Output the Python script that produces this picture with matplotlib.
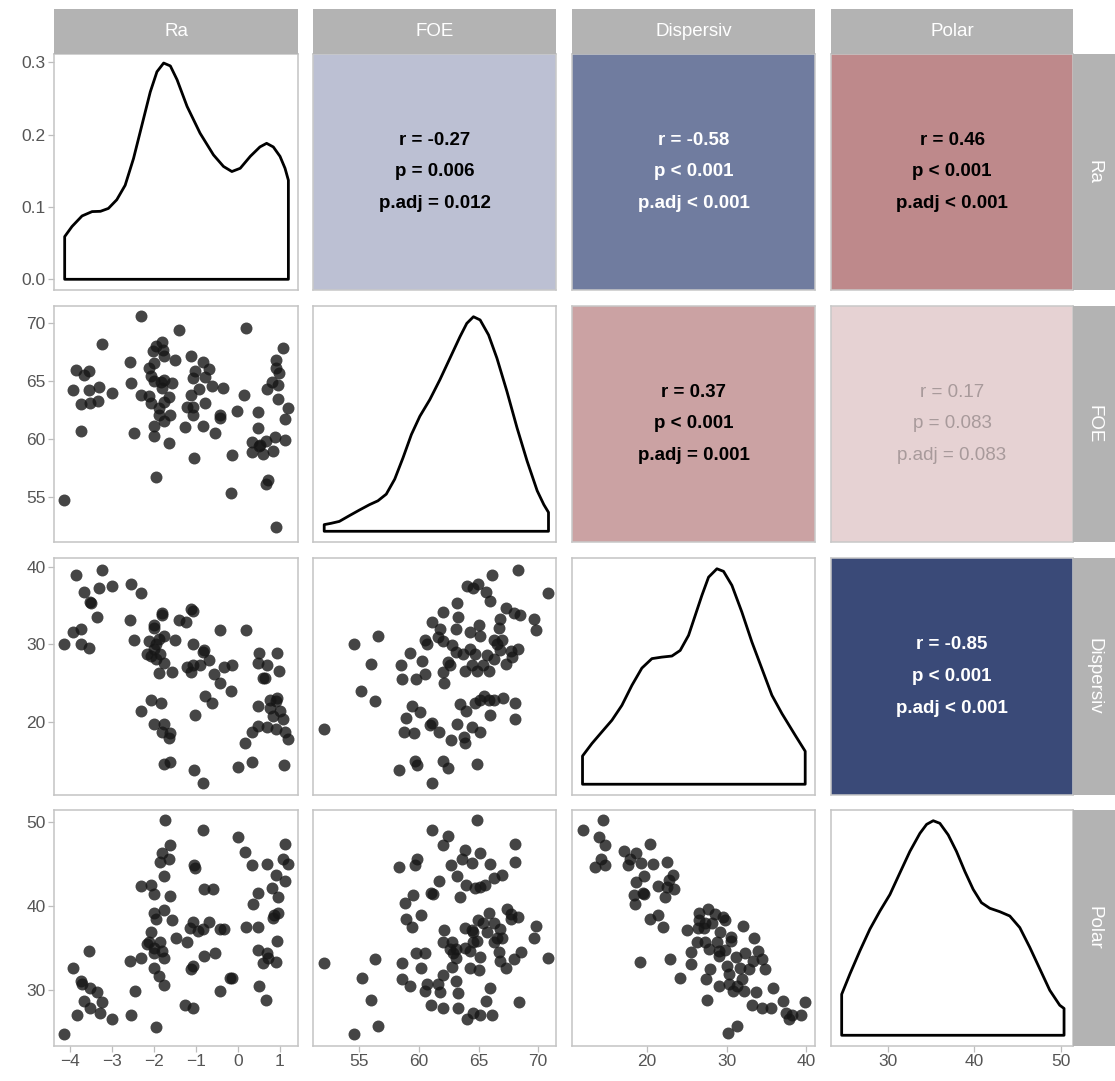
import matplotlib.pyplot as plt
import numpy as np

plt.rcParams['font.family'] = ['Liberation Sans', 'DejaVu Sans']

W, H = 1115, 1081

variables = ["Ra", "FOE", "Dispersiv", "Polar"]

# axis limits and ticks per variable
limits = {"Ra": (-4.39, 1.44), "FOE": (51.1, 71.5), "Dispersiv": (10.6, 41.1), "Polar": (23.35, 51.45)}
ticks = {"Ra": [-4, -3, -2, -1, 0, 1], "FOE": [55, 60, 65, 70],
         "Dispersiv": [20, 30, 40], "Polar": [30, 40, 50]}
ra_dens_ticks = [0.0, 0.1, 0.2, 0.3]

# diagonal densities (Ra in real units, others relative to their peak)
ra_dens_x = [-4.135, -3.96, -3.72, -3.48, -3.28, -3.09, -2.89, -2.69, -2.49, -2.29, -2.09, -1.93, -1.77, -1.61,
             -1.45, -1.21, -0.90, -0.58, -0.34, -0.14, 0.06, 0.30, 0.53, 0.69, 0.85, 1.01, 1.13, 1.21]
ra_dens_y = [0.059, 0.073, 0.0876, 0.0936, 0.094, 0.098, 0.110, 0.130, 0.167, 0.213, 0.259, 0.287, 0.299, 0.295,
             0.276, 0.239, 0.202, 0.172, 0.156, 0.149, 0.1535, 0.170, 0.183, 0.188, 0.183, 0.170, 0.1535, 0.137]
foe_dens_x = [52.04, 52.61, 53.31, 54.16, 55.0, 55.84, 56.55, 57.25, 57.96, 58.66, 59.36, 60.07, 60.91, 61.75,
              62.60, 63.44, 64.01, 64.57, 65.13, 65.84, 66.54, 67.38, 68.23, 69.07, 69.92, 70.48, 70.87]
foe_dens_y = [0.031, 0.037, 0.046, 0.073, 0.099, 0.124, 0.142, 0.173, 0.243, 0.343, 0.451, 0.536, 0.614, 0.706,
              0.807, 0.907, 0.969, 1.0, 0.985, 0.915, 0.807, 0.652, 0.482, 0.328, 0.189, 0.124, 0.088]
disp_dens_x = [11.92, 13.10, 14.35, 15.61, 16.86, 18.12, 19.37, 20.63, 21.88, 23.14, 24.18, 25.23, 26.07, 26.90,
               27.74, 28.79, 29.62, 30.67, 31.92, 33.18, 34.44, 35.69, 36.95, 38.62, 39.87]
disp_dens_y = [0.131, 0.189, 0.243, 0.297, 0.366, 0.459, 0.539, 0.583, 0.590, 0.595, 0.621, 0.691, 0.784, 0.876,
               0.961, 1.0, 0.988, 0.923, 0.799, 0.660, 0.536, 0.413, 0.328, 0.227, 0.153]
polar_dens_x = [24.59, 25.56, 26.71, 27.87, 29.03, 30.19, 31.35, 32.51, 33.67, 34.45, 35.22, 35.99, 36.96, 37.92,
                38.89, 39.86, 40.82, 41.79, 42.95, 44.11, 45.27, 46.43, 47.59, 48.75, 49.91, 50.41]
polar_dens_y = [0.191, 0.287, 0.394, 0.495, 0.579, 0.656, 0.757, 0.857, 0.941, 0.983, 1.0, 0.988, 0.934, 0.857,
                0.764, 0.680, 0.618, 0.592, 0.576, 0.556, 0.502, 0.410, 0.310, 0.210, 0.140, 0.125]

# scatter points, (x, y) per lower panel
ra_foe_pts = [(-2.31, 70.62), (-1.41, 69.41), (0.20, 69.58), (-3.24, 68.20), (1.09, 67.89), (-1.80, 68.37),
              (-1.95, 68.03), (-2.03, 67.58), (-1.79, 67.67), (-1.76, 67.16), (-1.49, 66.82), (-1.11, 67.16),
              (-0.82, 66.68), (-0.68, 66.06), (-1.02, 65.92), (-1.07, 65.25), (-0.79, 65.33), (-0.62, 64.60),
              (-0.35, 64.43), (-0.92, 64.35), (-1.12, 63.81), (-0.79, 63.14), (-1.22, 62.77), (-1.06, 62.74),
              (-1.06, 62.04), (-1.25, 61.08), (-0.82, 61.14), (-0.55, 60.52), (-0.42, 62.12), (-0.42, 61.84),
              (-0.01, 62.41), (0.16, 63.78), (-1.05, 58.38), (-0.13, 58.64), (-0.17, 55.34), (-1.95, 56.69),
              (-1.64, 59.62), (-2.00, 60.27), (-2.00, 61.17), (-2.47, 60.52), (-3.75, 60.72), (-4.14, 54.75),
              (0.92, 52.36), (0.73, 56.47), (0.68, 56.13), (-2.58, 66.65), (-2.54, 64.88), (-2.31, 63.81),
              (-2.12, 63.73), (-2.08, 63.11), (-2.01, 66.54), (-2.12, 66.17), (-2.07, 65.47), (-2.00, 64.99),
              (-1.77, 65.13), (-1.81, 64.43), (-1.56, 64.82), (-1.84, 64.96), (-1.64, 63.61), (-1.75, 63.16),
              (-1.88, 62.66), (-1.89, 62.04), (-1.77, 61.59), (-1.61, 62.10), (-3.01, 64.01), (-3.32, 64.51),
              (-3.35, 63.28), (-3.52, 63.14), (-3.75, 63.02), (-3.56, 64.26), (-3.94, 64.23), (-3.86, 65.95),
              (-3.67, 65.53), (-3.55, 65.86), (0.92, 66.82), (0.92, 66.12), (0.98, 65.75), (0.81, 64.96),
              (0.69, 64.35), (0.96, 64.68), (0.96, 63.45), (1.19, 62.69), (1.13, 61.70), (1.12, 59.90),
              (0.90, 60.21), (0.68, 59.85), (0.49, 60.97), (0.49, 62.38), (0.33, 59.73), (0.50, 59.37),
              (0.35, 58.89), (0.61, 58.72), (0.85, 59.00), (0.53, 59.51)]

ra_disp_pts = [(-3.86, 38.90), (-3.24, 39.58), (-3.67, 36.74), (-3.32, 37.25), (-3.01, 37.46), (-2.54, 37.72),
               (-2.31, 36.62), (-3.54, 35.43), (-3.51, 35.26), (-3.36, 33.53), (-3.94, 31.54), (-3.74, 31.97),
               (-4.14, 30.06), (-3.75, 30.06), (-3.56, 29.51), (-2.58, 33.11), (-2.47, 30.57), (-1.81, 34.00),
               (-1.80, 33.74), (-1.99, 32.47), (-2.01, 32.05), (-1.41, 33.15), (-1.23, 32.90), (-1.11, 34.59),
               (-1.06, 34.29), (-0.42, 31.88), (0.20, 31.80), (-1.77, 31.12), (-1.88, 30.70), (-2.11, 30.36),
               (-1.95, 30.02), (-1.99, 29.43), (-2.17, 28.79), (-2.07, 28.50), (-1.85, 28.79), (-1.96, 28.08),
               (-1.77, 27.61), (-1.87, 26.34), (-1.57, 26.38), (-1.49, 30.49), (-1.06, 29.98), (-0.80, 29.30),
               (-0.82, 29.01), (-0.68, 28.03), (-1.22, 27.10), (-1.06, 27.32), (-0.90, 27.32), (-1.11, 26.38),
               (-0.34, 27.10), (-0.13, 27.32), (-0.56, 26.13), (-0.42, 24.99), (-0.17, 24.02), (0.52, 28.88),
               (0.95, 28.88), (0.48, 27.65), (0.69, 27.32), (0.98, 26.55), (0.61, 25.62), (0.66, 25.62),
               (-0.79, 23.30), (-0.61, 22.45), (-1.02, 20.85), (-2.07, 22.88), (-1.84, 22.45), (-2.31, 21.35),
               (-2.01, 19.79), (-1.76, 19.70), (-1.80, 18.73), (-1.62, 18.52), (-1.65, 17.93), (-1.75, 14.55),
               (-1.61, 14.80), (-1.04, 13.78), (-0.82, 12.09), (0.00, 14.16), (0.34, 14.88), (1.11, 14.42),
               (0.17, 17.29), (0.35, 18.65), (0.49, 19.53), (0.69, 19.37), (0.92, 19.15), (1.13, 18.77),
               (1.19, 17.76), (1.09, 20.42), (0.85, 20.76), (0.91, 22.75), (0.93, 23.09), (0.77, 22.88),
               (0.49, 22.07), (0.77, 21.82), (1.01, 21.40)]

foe_disp_pts = [(52.04, 19.15), (54.58, 30.06), (56.55, 31.12), (55.93, 27.40), (55.14, 24.02), (56.27, 22.75),
                (59.22, 28.88), (58.52, 27.32), (58.57, 25.54), (59.78, 25.50), (60.21, 27.82), (60.49, 26.13),
                (60.52, 30.61), (60.69, 30.06), (61.05, 32.90), (61.75, 31.97), (61.56, 30.99), (62.04, 34.16),
                (61.98, 30.36), (62.80, 29.94), (63.22, 35.35), (63.30, 33.53), (63.11, 31.97), (64.06, 37.46),
                (64.57, 37.21), (64.99, 37.76), (65.61, 36.74), (65.92, 35.56), (66.09, 38.94), (68.34, 39.58),
                (70.87, 36.62), (67.30, 34.63), (68.00, 34.08), (68.51, 33.74), (69.64, 33.23), (69.80, 31.84),
                (66.76, 33.23), (66.71, 32.09), (65.05, 32.52), (65.13, 31.04), (64.29, 31.54), (66.26, 30.49),
                (66.96, 30.61), (66.54, 30.06), (66.76, 29.22), (67.72, 29.09), (68.31, 29.34), (67.81, 28.37),
                (67.33, 27.48), (66.26, 28.08), (65.70, 28.58), (65.36, 27.32), (64.85, 26.55), (65.84, 26.60),
                (64.43, 27.32), (63.87, 26.55), (64.71, 28.79), (64.29, 29.43), (63.73, 28.79), (63.11, 29.01),
                (62.60, 27.32), (62.43, 27.74), (62.04, 26.38), (62.09, 24.99), (63.44, 22.33), (63.92, 21.40),
                (64.71, 22.45), (65.13, 22.79), (65.47, 23.30), (65.84, 22.88), (66.31, 22.79), (67.05, 23.09),
                (68.03, 22.45), (68.09, 20.34), (65.98, 20.85), (64.43, 19.37), (65.13, 18.73), (63.19, 19.70),
                (63.78, 18.01), (63.87, 17.25), (62.71, 17.72), (61.70, 18.73), (61.05, 19.83), (60.91, 19.62),
                (60.12, 21.27), (59.42, 22.07), (58.88, 20.55), (58.77, 18.65), (59.56, 18.52), (58.32, 13.78),
                (59.64, 14.97), (59.84, 14.42), (62.04, 14.97), (62.43, 14.12), (61.08, 12.09), (64.85, 14.55)]

ra_polar_pts = [(-1.73, 50.27), (-0.82, 49.10), (0.00, 48.24), (1.12, 47.46), (0.18, 46.48), (0.34, 44.91),
                (0.71, 45.07), (1.09, 45.58), (1.19, 44.99), (0.92, 43.74), (1.13, 43.03), (0.81, 42.21),
                (0.49, 41.55), (0.97, 41.08), (0.36, 40.29), (0.96, 39.24), (0.84, 38.61), (0.87, 38.92),
                (0.20, 37.55), (0.49, 37.48), (0.93, 35.87), (0.49, 34.81), (0.71, 34.42), (0.73, 33.84),
                (0.61, 33.25), (0.92, 33.37), (0.52, 30.51), (0.68, 28.87), (-0.18, 31.49), (-0.14, 31.41),
                (-0.42, 29.84), (-1.61, 47.34), (-1.81, 46.28), (-1.85, 45.26), (-1.64, 45.58), (-1.76, 43.62),
                (-2.31, 42.45), (-2.07, 42.52), (-2.00, 41.47), (-1.63, 41.19), (-1.77, 39.59), (-2.01, 39.24),
                (-1.95, 38.53), (-1.57, 38.34), (-1.06, 38.06), (-1.14, 37.36), (-0.69, 38.06), (-0.83, 37.28),
                (-0.94, 37.05), (-0.42, 37.24), (-0.33, 37.24), (-1.04, 44.91), (-1.03, 44.60), (-0.81, 42.05),
                (-0.60, 42.05), (-1.47, 36.26), (-1.22, 35.68), (-2.07, 36.97), (-2.11, 35.79), (-2.17, 35.48),
                (-2.01, 35.01), (-1.85, 35.71), (-1.81, 34.62), (-1.77, 33.84), (-2.01, 34.42), (-2.58, 33.52),
                (-2.31, 33.84), (-2.00, 32.58), (-1.87, 31.68), (-1.77, 30.63), (-0.80, 34.03), (-0.55, 34.42),
                (-1.06, 32.86), (-1.12, 32.47), (-2.46, 29.92), (-2.55, 27.10), (-1.95, 25.62), (-1.26, 28.28),
                (-1.06, 27.89), (-3.56, 34.70), (-3.94, 32.66), (-3.75, 31.10), (-3.72, 30.70), (-3.54, 30.31),
                (-3.36, 29.73), (-3.24, 28.55), (-3.67, 28.75), (-3.52, 27.89), (-3.30, 27.30), (-3.84, 27.03),
                (-3.01, 26.52), (-4.14, 24.83)]

foe_polar_pts = [(64.85, 50.27), (61.08, 49.10), (62.46, 48.32), (62.04, 47.26), (68.09, 47.46), (63.87, 46.63),
                 (65.13, 46.28), (63.58, 45.58), (64.43, 45.11), (65.98, 44.99), (68.09, 45.30), (59.84, 45.58),
                 (59.64, 44.87), (58.32, 44.72), (62.68, 44.91), (63.22, 43.62), (61.67, 42.95), (66.96, 43.74),
                 (66.26, 43.35), (65.55, 42.56), (65.13, 42.25), (64.71, 42.13), (63.95, 42.56), (63.44, 41.08),
                 (60.97, 41.58), (61.14, 41.47), (59.50, 41.27), (58.80, 40.37), (60.15, 38.92), (58.88, 38.53),
                 (59.39, 37.51), (65.84, 39.24), (67.38, 39.63), (67.72, 39.12), (68.28, 38.69), (67.72, 38.53),
                 (64.91, 38.34), (65.41, 37.95), (66.26, 37.95), (65.70, 36.97), (66.76, 37.24), (63.87, 37.36),
                 (64.43, 37.16), (64.57, 36.97), (62.09, 37.16), (61.98, 35.79), (62.74, 35.71), (62.60, 34.93),
                 (63.11, 34.93), (63.87, 35.01), (64.29, 34.70), (64.51, 35.79), (64.85, 35.91), (66.26, 35.79),
                 (66.54, 36.18), (66.96, 36.26), (66.68, 34.54), (66.76, 33.52), (68.00, 33.76), (68.57, 34.50),
                 (67.33, 32.58), (69.78, 37.59), (69.64, 36.18), (70.87, 33.84), (65.08, 33.95), (62.88, 34.42),
                 (63.11, 33.84), (59.73, 34.46), (60.49, 34.46), (58.60, 33.21), (60.15, 32.58), (62.74, 32.78),
                 (64.29, 32.66), (65.05, 32.39), (61.98, 31.80), (58.55, 31.37), (59.22, 30.51), (60.69, 30.70),
                 (60.49, 29.92), (61.61, 30.70), (61.75, 29.80), (63.08, 31.10), (63.30, 29.69), (65.98, 30.31),
                 (65.64, 28.75), (68.37, 28.59), (61.02, 28.24), (62.04, 27.85), (63.30, 27.89), (64.57, 27.30),
                 (65.08, 27.10), (64.06, 26.59), (66.12, 27.06), (52.04, 33.25), (56.27, 33.76), (55.23, 31.41),
                 (55.93, 28.83), (56.55, 25.70), (54.58, 24.83)]

disp_polar_pts = [(11.92, 49.10), (14.48, 50.20), (13.93, 48.24), (14.69, 47.26), (14.18, 45.58), (13.51, 44.72),
                  (14.77, 44.87), (17.15, 46.56), (18.66, 46.36), (17.91, 45.58), (17.62, 44.91), (19.29, 45.11),
                  (20.42, 47.46), (20.79, 44.99), (22.51, 45.30), (19.58, 43.62), (18.62, 42.92), (23.22, 43.74),
                  (22.80, 43.15), (22.51, 42.25), (23.39, 42.05), (22.30, 41.08), (21.34, 42.45), (19.67, 41.47),
                  (18.37, 41.27), (18.54, 40.29), (19.50, 41.58), (20.42, 38.53), (21.38, 39.00), (22.05, 37.51),
                  (19.16, 33.37), (22.85, 33.76), (24.10, 31.49), (25.02, 37.16), (26.57, 39.24), (27.62, 39.63),
                  (28.58, 39.12), (29.50, 38.73), (26.49, 38.34), (27.32, 37.95), (26.40, 37.36), (27.11, 37.44),
                  (28.16, 37.95), (29.21, 36.97), (29.83, 38.34), (32.05, 37.67), (33.39, 36.18), (26.28, 35.79),
                  (27.32, 35.68), (27.74, 34.93), (28.79, 35.79), (29.00, 34.62), (29.83, 34.74), (29.08, 34.03),
                  (30.54, 36.30), (30.59, 35.87), (25.56, 34.50), (25.56, 33.17), (27.87, 32.54), (30.04, 32.86),
                  (31.17, 33.95), (32.34, 34.42), (33.93, 34.62), (34.44, 33.72), (34.85, 32.54), (33.26, 33.44),
                  (32.76, 32.47), (31.63, 32.58), (30.33, 31.88), (31.92, 31.29), (27.41, 31.37), (29.00, 30.51),
                  (30.25, 30.70), (30.79, 29.92), (31.30, 30.51), (32.22, 29.84), (33.68, 29.73), (35.86, 30.31),
                  (27.53, 28.83), (33.18, 28.24), (34.44, 27.89), (35.61, 27.89), (37.03, 28.75), (39.87, 28.55),
                  (37.49, 27.26), (37.78, 26.59), (38.20, 27.10), (39.29, 26.99), (30.17, 24.91), (31.30, 25.70)]

# upper panels: (row, col, r, p, p.adj, fill, text colour, significant)
corr_cells = [
    (0, 1, "-0.27", "= 0.006", "= 0.012", "#bcc0d3", "black", True),
    (0, 2, "-0.58", "< 0.001", "< 0.001", "#707c9f", "white", True),
    (0, 3, "0.46", "< 0.001", "< 0.001", "#be898b", "black", True),
    (1, 2, "0.37", "< 0.001", "= 0.001", "#cba2a3", "black", True),
    (1, 3, "0.17", "= 0.083", "= 0.083", "#e6d2d3", "#a89a9b", False),
    (2, 3, "-0.85", "< 0.001", "< 0.001", "#3a4a78", "white", True),
]

col_px = [(54, 298), (313, 556), (572, 815), (831, 1073)]
row_px = [(54, 290), (306, 542), (558, 795), (810, 1046)]
strip_col = "#b3b3b3"
border = "#c4c4c4"


def box(l, t, r, b):
    return [l / W, 1 - b / H, (r - l) / W, (b - t) / H]


def style(ax):
    for s in ax.spines.values():
        s.set_color(border)
        s.set_linewidth(1.1)
    ax.tick_params(color="#bdbdbd", labelcolor="#555555", labelsize=12.5, length=4, width=0.9, pad=2)


def density(ax, xs, ys):
    px = [xs[0]] + list(xs) + [xs[-1]]
    py = [0] + list(ys) + [0]
    ax.fill(px, py, facecolor="white", edgecolor="black", lw=2.0, joinstyle="round")


fig = plt.figure(figsize=(W / 100, H / 100), dpi=100)

dens = {"Ra": (ra_dens_x, ra_dens_y), "FOE": (foe_dens_x, foe_dens_y),
        "Dispersiv": (disp_dens_x, disp_dens_y), "Polar": (polar_dens_x, polar_dens_y)}
scatters = {(1, 0): ra_foe_pts, (2, 0): ra_disp_pts, (2, 1): foe_disp_pts,
            (3, 0): ra_polar_pts, (3, 1): foe_polar_pts, (3, 2): disp_polar_pts}
corr_lookup = {(c[0], c[1]): c for c in corr_cells}

for i in range(4):
    for j in range(4):
        l, r = col_px[j]
        t, b = row_px[i]
        ax = fig.add_axes(box(l, t, r, b))
        style(ax)
        xv, yv = variables[j], variables[i]
        ax.set_xlim(*limits[xv])
        if i == j:
            dx, dy = dens[xv]
            density(ax, dx, dy)
            if xv == "Ra":
                ax.set_ylim(-0.0148, 0.3115)
            else:
                ax.set_ylim(-0.05, 1.05)
        elif i > j:
            ax.set_ylim(*limits[yv])
            sx, sy = zip(*scatters[(i, j)])
            ax.scatter(sx, sy, s=74, c="#161616", alpha=0.8, linewidths=0, zorder=3)
        else:
            ax.set_ylim(*limits[yv])
            cell = corr_lookup[(i, j)]
            ax.set_facecolor(cell[5])
            weight = "bold" if cell[7] else "normal"
            lines = ["r = " + cell[2], "p " + cell[3], "p.adj " + cell[4]]
            for k, txt in enumerate(lines):
                ax.text(0.5, 0.5 + 0.135 * (1 - k), txt, transform=ax.transAxes, ha="center", va="center",
                        fontsize=13.5, color=cell[6], fontweight=weight)
            for s in ax.spines.values():
                s.set_color("#c8c8c8")
        # ticks only on outer panels
        ax.set_xticks(ticks[xv])
        if i == 0 and j == 0:
            ax.set_yticks(ra_dens_ticks)
            ax.set_yticklabels(["%.1f" % v for v in ra_dens_ticks])
        elif i == j:
            ax.set_yticks([])
        else:
            ax.set_yticks(ticks[yv])
        if i != 3:
            ax.tick_params(axis="x", bottom=False, labelbottom=False)
        if j != 0:
            ax.tick_params(axis="y", left=False, labelleft=False)

# facet strips
for j, name in enumerate(variables):
    l, r = col_px[j]
    sax = fig.add_axes(box(l, 9, r, 54))
    sax.set_facecolor(strip_col)
    sax.set_xticks([])
    sax.set_yticks([])
    for s in sax.spines.values():
        s.set_visible(False)
    sax.text(0.5, 0.5, name, transform=sax.transAxes, ha="center", va="center", color="white", fontsize=13.5)

for i, name in enumerate(variables):
    t, b = row_px[i]
    sax = fig.add_axes(box(1073, t, 1115, b))
    sax.set_facecolor(strip_col)
    sax.set_xticks([])
    sax.set_yticks([])
    for s in sax.spines.values():
        s.set_visible(False)
    sax.text(0.5, 0.5, name, transform=sax.transAxes, ha="center", va="center", color="white",
             fontsize=13.5, rotation=-90)

fig.savefig("out.png", dpi=100, facecolor="white")
